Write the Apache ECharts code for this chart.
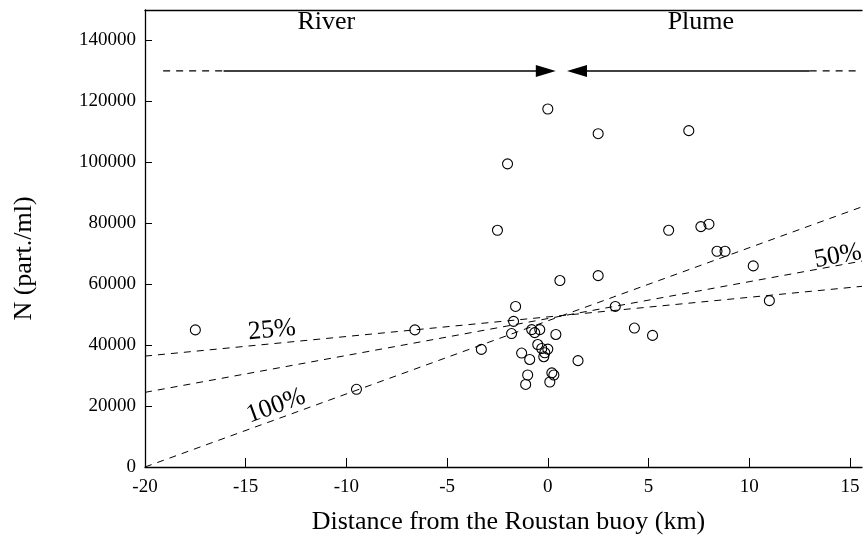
<!DOCTYPE html>
<html>
<head>
<meta charset="utf-8">
<script src="https://cdn.jsdelivr.net/npm/echarts@6/dist/echarts.min.js"></script>
<style>html,body{margin:0;padding:0;background:#fff}#c{width:863px;height:543px}</style>
</head>
<body>
<div id="c"></div>
<script>
// ---- data ----
const distKm = [-17.5, -9.5, -6.6, -3.3, -2.5, -2.0, -1.6, -1.7, -1.8, -1.3, -0.9, -1.0, -1.1,
  -0.8, -0.65, -0.4, -0.5, -0.3, 0.0, -0.15, -0.2, 0.4, 0.6, 0.0, 0.2, 0.3, 0.1, 1.5,
  2.5, 2.5, 3.35, 4.3, 5.2, 6.0, 7.0, 7.6, 8.0, 8.4, 8.8, 10.2, 11.0];
const particles = [45000, 25500, 45000, 38600, 77700, 99500, 52700, 47800, 43800, 37400, 35300, 30200, 27100,
  45100, 44100, 45100, 40200, 38900, 38700, 37500, 36200, 43500, 61200, 117500, 30900, 30200, 27900, 34900,
  109400, 62800, 52700, 45600, 43200, 77700, 110400, 78900, 79700, 70800, 70800, 66000, 54600];

const xTicks = [-20, -15, -10, -5, 0, 5, 10, 15];
const yTicks = [0, 20000, 40000, 60000, 80000, 100000, 120000, 140000];

// mixing lines (endpoints at x = -20 and x = 15.6)
const lineX = [-20, 15.6];
const line25 = [36400, 59300];
const line50 = [24500, 67600];
const line100 = [0, 85400];

// labels for the mixing lines: [x, y, text, angle]
const lineLabels = [[-13.7, 44900, '25%', 5.5], [14.4, 69200, '50%', 10.4], [-13.5, 20000, '100%', 20]];

// river/plume arrows
const arrowY = 130000;
const riverDash = [-19.1, -16.1];
const riverSolid = [-16.1, -0.5];
const plumeSolid = [1.6, 13.0];
const plumeDash = [13.0, 15.4];
const arrowHeads = [[-0.1, arrowY, -90], [1.45, arrowY, 90]];
const regionLabels = [[-11.0, 'River'], [7.6, 'Plume']];
const regionLabelY = 146000;

const FONT = 'Liberation Serif';
const chart = echarts.init(document.getElementById('c'), null, {renderer: 'canvas'});

function seg(xr, y) { return xr.map(x => [x, y]); }
function lineSeries(ys) {
  return {
    type: 'line', data: lineX.map((x, i) => [x, ys[i]]), symbol: 'none', silent: true,
    lineStyle: {color: '#000', width: 1, type: [7, 6], opacity: 1}, z: 2
  };
}
const textStyle = {show: true, position: 'inside', fontFamily: FONT, fontSize: 26, color: '#000',
  opacity: 1, textBorderWidth: 0};

chart.setOption({
  animation: false,
  backgroundColor: '#fff',
  grid: {left: 145, right: 1, top: 10, bottom: 76, containLabel: false},
  xAxis: [{
    type: 'value', min: -20, max: 15.6, interval: 5,
    name: 'Distance from the Roustan buoy (km)', nameLocation: 'middle', nameGap: 42,
    nameTextStyle: {fontFamily: FONT, fontSize: 26, color: '#000', padding: [0, 0, 0, 10]},
    axisLine: {show: true, onZero: false, lineStyle: {color: '#000', width: 1.3}},
    axisTick: {show: true, inside: true, length: 9, lineStyle: {color: '#000', width: 1}, customValues: xTicks},
    axisLabel: {fontFamily: FONT, fontSize: 19, color: '#000', margin: 11, customValues: xTicks},
    splitLine: {show: false}
  }, {
    type: 'value', position: 'top', min: -20, max: 15.6,
    axisLine: {show: true, onZero: false, lineStyle: {color: '#000', width: 1.3}},
    axisTick: {show: false}, axisLabel: {show: false}, splitLine: {show: false}
  }],
  yAxis: {
    type: 'value', min: 0, max: 150000, interval: 20000,
    name: 'N (part./ml)', nameLocation: 'middle', nameGap: 108, nameRotate: 90,
    nameTextStyle: {fontFamily: FONT, fontSize: 26, color: '#000', padding: [0, 40, 0, 0]},
    axisLine: {show: true, onZero: false, lineStyle: {color: '#000', width: 1.3}},
    axisTick: {show: true, inside: true, length: 7, lineStyle: {color: '#000', width: 1}, customValues: yTicks},
    axisLabel: {fontFamily: FONT, fontSize: 19, color: '#000', margin: 9, customValues: yTicks,
      formatter: v => String(v)},
    splitLine: {show: false}
  },
  series: [
    lineSeries(line25), lineSeries(line50), lineSeries(line100),
    {
      type: 'scatter', data: distKm.map((x, i) => [x, particles[i]]),
      symbol: 'circle', symbolSize: 10,
      itemStyle: {color: 'rgba(0,0,0,0)', borderColor: '#000', borderWidth: 1.1, opacity: 1}, z: 3
    },
    {type: 'line', data: seg(riverDash, arrowY), symbol: 'none', lineStyle: {color: '#000', width: 1.3, type: [7, 6]}},
    {type: 'line', data: seg(riverSolid, arrowY), symbol: 'none', lineStyle: {color: '#000', width: 1.5}},
    {type: 'line', data: seg(plumeSolid, arrowY), symbol: 'none', lineStyle: {color: '#000', width: 1.5}},
    {type: 'line', data: seg(plumeDash, arrowY), symbol: 'none', lineStyle: {color: '#000', width: 1.3, type: [7, 6]}},
    {
      type: 'scatter', symbol: 'triangle',
      data: arrowHeads.map(a => ({value: [a[0], a[1]], symbolRotate: a[2]})),
      symbolSize: [12, 20], itemStyle: {color: '#000', opacity: 1}
    },
    {
      type: 'scatter', symbolSize: 0, itemStyle: {opacity: 1},
      data: lineLabels.map(l => ({value: [l[0], l[1]], label: {formatter: l[2], rotate: l[3]}})),
      label: textStyle
    },
    {
      type: 'scatter', symbolSize: 0, itemStyle: {opacity: 1},
      data: regionLabels.map(l => ({value: [l[0], regionLabelY], label: {formatter: l[1]}})),
      label: textStyle
    }
  ]
});
</script>
</body>
</html>
